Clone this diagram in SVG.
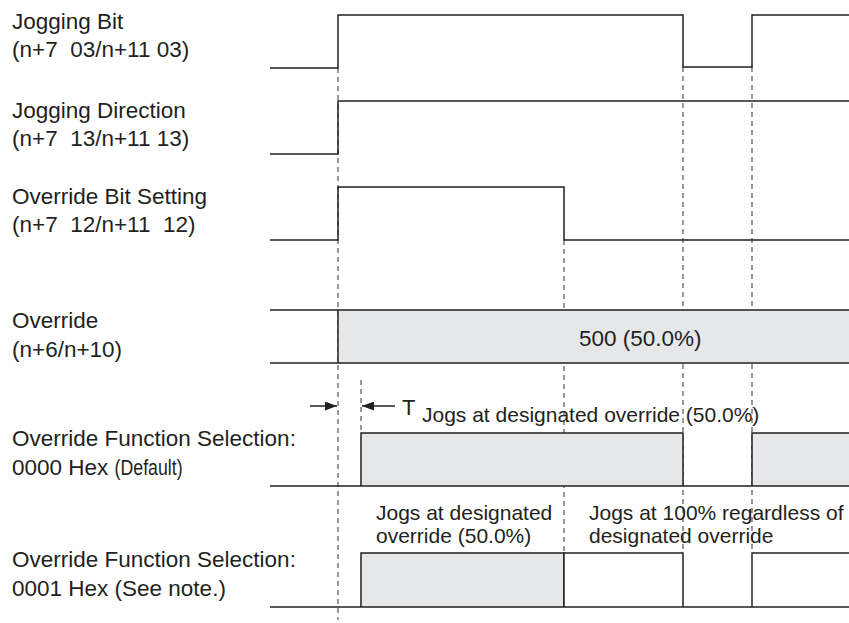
<svg xmlns="http://www.w3.org/2000/svg" width="849" height="623" viewBox="0 0 849 623">
<style>
.t{font-family:"Liberation Sans",Arial,sans-serif;font-size:21px;fill:#231f20;white-space:pre}
.l{font-size:22.5px}
.s{fill:none;stroke:#231f20;stroke-width:1.5}
.g{fill:#e6e7e8;stroke:#231f20;stroke-width:1.5}
.w{fill:#ffffff;stroke:#231f20;stroke-width:1.5}
.d{fill:none;stroke:#555;stroke-width:1.2;stroke-dasharray:5 4}
.a{fill:none;stroke:#231f20;stroke-width:1.5}
</style>
<defs>
<marker id="ah" viewBox="0 0 12 9" refX="12" refY="4.5" markerWidth="12" markerHeight="9" markerUnits="userSpaceOnUse" orient="auto">
<path d="M0,0 L12,4.5 L0,9 Z" fill="#231f20"/>
</marker>
</defs>
<g id="connectors">
<line class="d" x1="338" y1="68" x2="338" y2="620"/>
<line class="d" x1="361" y1="380" x2="361" y2="433"/>
<line class="d" x1="564" y1="240" x2="564" y2="553"/>
<line class="d" x1="683" y1="67" x2="683" y2="553"/>
<line class="d" x1="752" y1="67" x2="752" y2="553"/>
<line class="a" x1="310" y1="406" x2="337" y2="406" marker-end="url(#ah)"/>
<line class="a" x1="395" y1="406" x2="362" y2="406" marker-end="url(#ah)"/>
</g>
<g id="jogging-bit">
<text class="t l" x="12" y="29">Jogging Bit</text>
<text class="t l" x="12" y="57">(n+7  03/n+11 03)</text>
<polyline class="s" points="270,68 338,68 338,15 683,15 683,67 752,67 752,15 849,15"/>
</g>
<g id="jogging-direction">
<text class="t l" x="12" y="118">Jogging Direction</text>
<text class="t l" x="12" y="146">(n+7  13/n+11 13)</text>
<polyline class="s" points="270,154 338,154 338,101 849,101"/>
</g>
<g id="override-bit">
<text class="t l" x="12" y="204">Override Bit Setting</text>
<text class="t l" x="12" y="232">(n+7  12/n+11  12)</text>
<polyline class="s" points="270,240 338,240 338,187 564,187 564,240 849,240"/>
</g>
<g id="override">
<text class="t l" x="12" y="328">Override</text>
<text class="t l" x="12" y="357">(n+6/n+10)</text>
<rect x="338" y="310" width="511" height="53" fill="#e6e7e8"/>
<line class="s" x1="270" y1="310" x2="849" y2="310"/>
<line class="s" x1="270" y1="363" x2="849" y2="363"/>
<line class="s" x1="338" y1="310" x2="338" y2="363"/>
<text class="t l" x="579" y="346">500 (50.0%)</text>
</g>
<g id="ofs-0000">
<text class="t l" x="12" y="446">Override Function Selection:</text>
<text class="t l" x="12" y="475">0000 Hex <tspan textLength="68" lengthAdjust="spacingAndGlyphs">(Default)</tspan></text>
<text class="t" x="402" y="415" style="font-size:22px">T</text>
<text class="t" x="422" y="422">Jogs at designated override (50.0%)</text>
<path class="g" d="M361,486 V433 H683 V486"/>
<rect x="752" y="433" width="97" height="53" fill="#e6e7e8"/>
<path class="s" d="M752,486 V433 H851"/>
<line class="s" x1="270" y1="486" x2="849" y2="486"/>
</g>
<g id="ofs-0001">
<text class="t l" x="12" y="567">Override Function Selection:</text>
<text class="t l" x="12" y="596">0001 Hex (See note.)</text>
<text class="t" x="376" y="520">Jogs at designated</text>
<text class="t" x="376" y="543">override (50.0%)</text>
<text class="t" x="589" y="520">Jogs at 100% regardless of</text>
<text class="t" x="589" y="543">designated override</text>
<path class="g" d="M361,607 V553 H564 V607"/>
<path class="w" d="M564,607 V553 H683 V607"/>
<path class="s" d="M752,607 V553 H851"/>
<line class="s" x1="270" y1="607" x2="849" y2="607"/>
</g>
</svg>
